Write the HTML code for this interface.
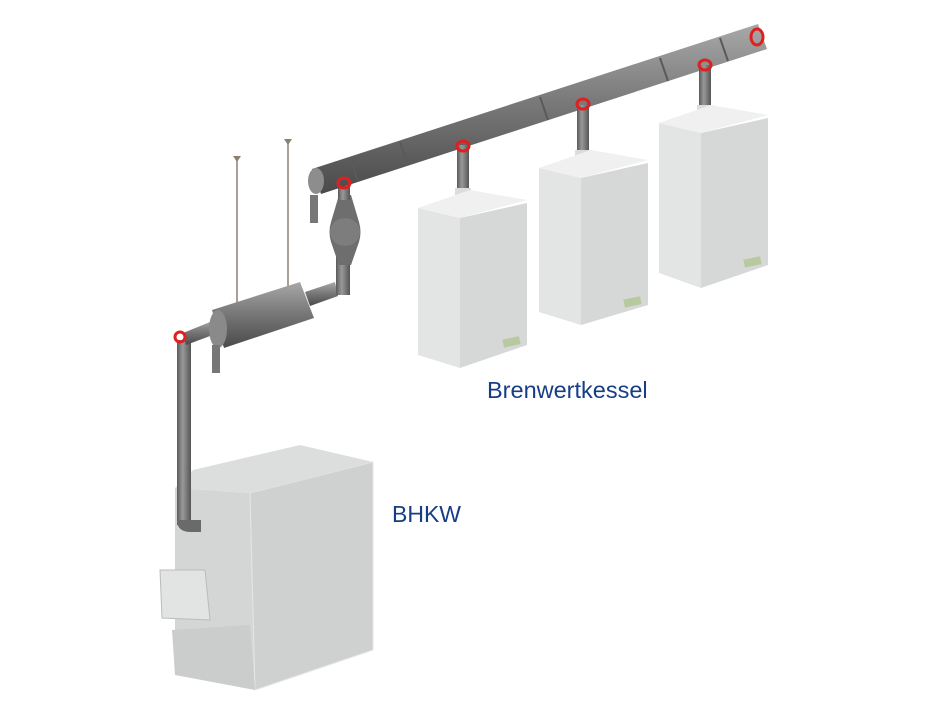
<!DOCTYPE html>
<html><head><style>
html,body{margin:0;padding:0;background:#fff;}
svg{display:block}
text{font-family:"Liberation Sans",sans-serif;fill:#163d86}
</style></head><body>
<svg width="940" height="705" viewBox="0 0 940 705" xmlns="http://www.w3.org/2000/svg">
<defs>
<linearGradient id="pg" x1="0" y1="0" x2="0" y2="1"><stop offset="0" stop-color="#a8a8a8"/><stop offset="0.45" stop-color="#7a7a7a"/><stop offset="1" stop-color="#4a4a4a"/></linearGradient>
<linearGradient id="vg" x1="0" y1="0" x2="1" y2="0"><stop offset="0" stop-color="#5a5a5a"/><stop offset="0.4" stop-color="#999"/><stop offset="1" stop-color="#555"/></linearGradient>
</defs>
<line x1="237" y1="160" x2="237" y2="305" stroke="#8a8070" stroke-width="1.5"/>
<line x1="288" y1="143" x2="288" y2="292" stroke="#8a8070" stroke-width="1.5"/>
<path d="M233 156h8l-4 6z M284 139h8l-4 6z" fill="#8a8070"/>
<!-- BHKW -->
<polygon points="175,488 250,493 255,690 175,665" fill="#d4d6d6"/>
<polygon points="250,493 373,462 373,650 255,690" fill="#cfd1d1" stroke="#e6e6e6"/>
<polygon points="193,470 300,445 373,462 250,493 175,488" fill="#dcdede"/>
<polygon points="160,570 205,570 210,620 162,618" fill="#e2e3e3" stroke="#bbb"/>
<polygon points="172,630 250,625 255,690 175,675" fill="#cbcdcd"/>
<rect x="177" y="340" width="14" height="185" fill="url(#vg)"/>
<path d="M177 520 q0 12 14 12 h10 v-12 h-10 z" fill="#6a6a6a"/>
<polygon points="183,333 215,320 218,333 186,345" fill="url(#pg)"/>
<polygon points="212,310 300,282 314,318 224,348" fill="url(#pg)"/>
<ellipse cx="218" cy="329" rx="9" ry="19" fill="#8a8a8a"/>
<polygon points="305,292 335,282 338,296 310,306" fill="url(#pg)"/>
<rect x="336" y="255" width="14" height="40" fill="url(#vg)"/>
<!-- filter -->
<path d="M339 195 L331 222 Q328 232 331 242 L339 265 L351 265 L359 242 Q362 232 359 222 L351 195 Z" fill="#6e6e6e"/>
<ellipse cx="345" cy="232" rx="15" ry="14" fill="#7d7d7d"/>
<rect x="338" y="186" width="12" height="14" fill="url(#vg)"/>
<rect x="310" y="195" width="8" height="28" fill="#777"/><rect x="212" y="345" width="8" height="28" fill="#777"/>
<!-- main pipe -->
<polygon points="312,169 758,24 767,49 321,194" fill="url(#pg)"/>
<ellipse cx="316" cy="181" rx="8" ry="13" fill="#8d8d8d"/>
<g stroke="#5a5a5a" stroke-width="2">
<line x1="350" y1="158" x2="358" y2="181"/><line x1="400" y1="142" x2="408" y2="165"/><line x1="540" y1="97" x2="548" y2="120"/><line x1="660" y1="58" x2="668" y2="81"/><line x1="720" y1="38" x2="728" y2="61"/>
</g>
<rect x="457" y="145" width="12" height="50" fill="url(#vg)"/>
<rect x="577" y="105" width="12" height="50" fill="url(#vg)"/>
<rect x="699" y="65" width="12" height="45" fill="url(#vg)"/>
<rect x="455" y="188" width="16" height="14" fill="#dcdcdc"/>
<rect x="575" y="150" width="16" height="14" fill="#dcdcdc"/>
<rect x="697" y="105" width="16" height="12" fill="#dcdcdc"/>
<g fill="none" stroke="#e02020" stroke-width="3">
<ellipse cx="463" cy="146" rx="6" ry="5"/><ellipse cx="583" cy="104" rx="6" ry="5"/><ellipse cx="705" cy="65" rx="6" ry="5"/>
<ellipse cx="344" cy="183" rx="6" ry="5"/><ellipse cx="757" cy="37" rx="6" ry="8"/><ellipse cx="180" cy="337" rx="5" ry="5"/>
</g>
<g>
<polygon points="418,208 460,218 460,368 418,355" fill="#e3e4e4"/>
<polygon points="460,218 527,203 527,345 460,368" fill="#d6d7d7"/>
<polygon points="418,208 470,190 527,200 460,218" fill="#f0f0f0"/>
<rect x="503" y="338" width="17" height="8" fill="#b8c9a0" transform="rotate(-12 511 342)"/>
</g>
<g transform="translate(121,-40)">
<polygon points="418,208 460,218 460,365 418,352" fill="#e3e4e4"/>
<polygon points="460,218 527,203 527,345 460,365" fill="#d6d7d7"/>
<polygon points="418,208 470,190 527,200 460,218" fill="#f0f0f0"/>
<rect x="503" y="338" width="17" height="8" fill="#b8c9a0" transform="rotate(-12 511 342)"/>
</g>
<g transform="translate(241,-85)">
<polygon points="418,208 460,218 460,373 418,358" fill="#e3e4e4"/>
<polygon points="460,218 527,203 527,350 460,373" fill="#d6d7d7"/>
<polygon points="418,208 470,190 527,200 460,218" fill="#f0f0f0"/>
<rect x="503" y="343" width="17" height="8" fill="#b8c9a0" transform="rotate(-12 511 347)"/>
</g>
<text x="487" y="398" font-size="23.5">Brenwertkessel</text>
<text x="392" y="522" font-size="23">BHKW</text>
</svg>
</body></html>
